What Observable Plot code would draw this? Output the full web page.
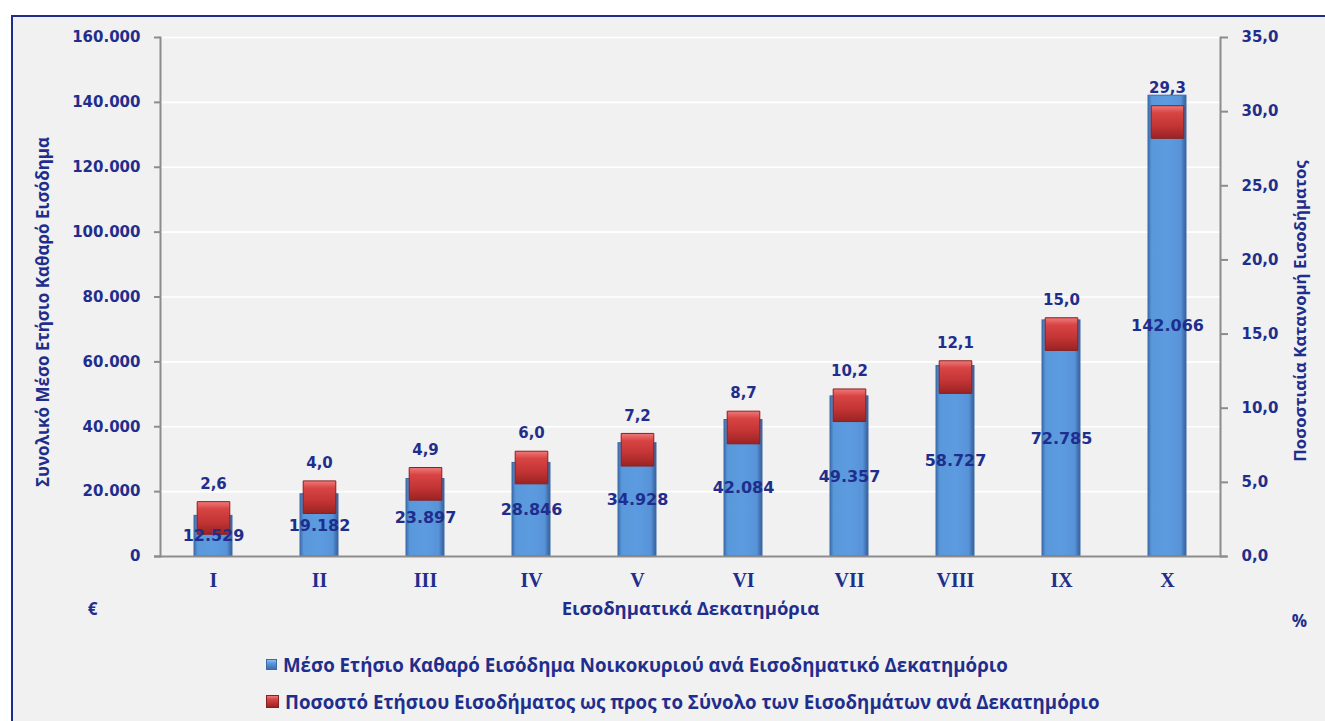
<!DOCTYPE html>
<html>
<head>
<meta charset="utf-8">
<script src="https://cdn.jsdelivr.net/npm/d3@7"></script>
<script src="https://cdn.jsdelivr.net/npm/@observablehq/plot@0.6"></script>
<style>
  html, body { margin: 0; padding: 0; background: #ffffff; width: 1325px; height: 721px; overflow: hidden; }
  #panel { position: absolute; left: 11px; top: 15px; width: 1400px; height: 800px;
           border: 2px solid #1f2e8c; background: #f1f1f1; box-sizing: border-box; }
  #chart { position: absolute; left: 0; top: 0; }
  #legend { position: absolute; left: 266px; top: 646px; font-family: "Open Sans", sans-serif;
            font-weight: 700; font-size: 18.7px; color: #1f2e8c; }
  .row { display: flex; align-items: center; height: 37px; white-space: nowrap; }
  .sw { width: 12px; height: 12px; margin-right: 6px; box-sizing: border-box; }
</style>
</head>
<body>
<div id="panel"></div>
<div id="chart"></div>
<div id="legend"></div>
<script>
// ---- data ----
const categories = ["I", "II", "III", "IV", "V", "VI", "VII", "VIII", "IX", "X"];
const income = [12529, 19182, 23897, 28846, 34928, 42084, 49357, 58727, 72785, 142066];
const share = [2.6, 4.0, 4.9, 6.0, 7.2, 8.7, 10.2, 12.1, 15.0, 29.3];
const leftTicks = [0, 20000, 40000, 60000, 80000, 100000, 120000, 140000, 160000];
const rightTicks = [0, 5, 10, 15, 20, 25, 30, 35];
const seriesNames = [
  "Μέσο Ετήσιο Καθαρό Εισόδημα Νοικοκυριού ανά Εισοδηματικό Δεκατημόριο",
  "Ποσοστό Ετήσιου Εισοδήματος ως προς το Σύνολο των Εισοδημάτων ανά Δεκατημόριο"
];
const leftTitle = "Συνολικό Μέσο Ετήσιο Καθαρό Εισόδημα";
const rightTitle = "Ποσοστιαία Κατανομή Εισοδήματος";
const xTitle = "Εισοδηματικά Δεκατημόρια";
const leftUnit = "€";
const rightUnit = "%";

// ---- helpers ----
const navy = "#1f2e8c";
const axisGray = "#8c8c8c";
const yMax = 160000, pMax = 35;
const k = yMax / pMax; // maps percentage scale onto income scale
const gr = d3.formatLocale({decimal: ",", thousands: ".", grouping: [3], currency: ["", "€"]});
const fmtInt = gr.format(",d");
const fmtPct = gr.format(".1f");

const data = categories.map((c, i) => ({cat: c, income: income[i], share: share[i]}));

function gradients() {
  const defs = d3.create("svg:defs");
  const b = defs.append("linearGradient").attr("id", "barGrad")
    .attr("x1", 0).attr("x2", 1).attr("y1", 0).attr("y2", 0);
  [[0, "#3c6fb2"], [0.1, "#5a98dc"], [0.5, "#5d9be0"], [0.86, "#5893d8"], [1, "#355f9c"]]
    .forEach(([o, c]) => b.append("stop").attr("offset", o).attr("stop-color", c));
  const r = defs.append("linearGradient").attr("id", "redGrad")
    .attr("x1", 0).attr("x2", 0).attr("y1", 0).attr("y2", 1);
  [[0, "#ef7a7a"], [0.22, "#d84444"], [0.6, "#c43535"], [1, "#9b2323"]]
    .forEach(([o, c]) => r.append("stop").attr("offset", o).attr("stop-color", c));
  return defs.node();
}

const titleStyle = {fill: navy, fontWeight: "bold", fontFamily: "Open Sans", textAnchor: "middle", lineAnchor: "middle"};

const plot = Plot.plot({
  width: 1325,
  height: 640,
  marginLeft: 160,
  marginRight: 105,
  marginTop: 37,
  marginBottom: 84,
  style: {background: "transparent", fontFamily: "DejaVu Sans", color: navy, overflow: "visible"},
  x: {domain: categories, paddingInner: 0.64, paddingOuter: 0.32, label: null},
  y: {domain: [0, yMax], label: null},
  marks: [
    gradients,
    Plot.gridY(leftTicks, {stroke: "#ffffff", strokeOpacity: 1, strokeWidth: 1.6}),
    Plot.barY(data, {x: "cat", y: "income", fill: "url(#barGrad)", stroke: "#3d6aa8", strokeWidth: 1}),
    Plot.dot(data, {x: "cat", y: d => d.share * k, symbol: "square", r: 18.4, fill: "url(#redGrad)",
                    stroke: "#8a1f1f", strokeWidth: 1}),
    Plot.text(data, {x: "cat", y: d => d.income / 2, text: d => fmtInt(d.income),
                     fontSize: 16, fontWeight: "bold", fill: navy, fontFamily: "DejaVu Sans"}),
    Plot.text(data, {x: "cat", y: d => d.share * k, dy: -34, text: d => fmtPct(d.share),
                     fontSize: 15, fontWeight: "bold", fill: navy, fontFamily: "DejaVu Sans"}),
    Plot.frame({anchor: "left", stroke: axisGray, strokeWidth: 2}),
    Plot.frame({anchor: "right", stroke: axisGray, strokeWidth: 2}),
    Plot.ruleY([0], {stroke: axisGray, strokeWidth: 2, insetLeft: -6, insetRight: -7}),
    Plot.axisY(leftTicks, {anchor: "left", tickSize: 6, tickPadding: 14, tickFormat: fmtInt,
                           stroke: axisGray, strokeWidth: 2, fill: navy, fontSize: 15,
                           fontWeight: "bold", fontFamily: "DejaVu Sans", label: null}),
    Plot.axisY(rightTicks.map(v => v * k), {anchor: "right", tickSize: 7, tickPadding: 14,
                           tickFormat: d => fmtPct(d / k), stroke: axisGray, strokeWidth: 2,
                           fill: navy, fontSize: 15, fontWeight: "bold", fontFamily: "DejaVu Sans", label: null}),
    Plot.axisX({anchor: "bottom", tickSize: 0, tickPadding: 16, fill: navy, fontSize: 20,
                fontWeight: "bold", fontFamily: "Liberation Serif", label: null}),
    Plot.text([leftTitle], {frameAnchor: "left", dx: -117, dy: 15, rotate: -90, fontSize: 17, ...titleStyle}),
    Plot.text([rightTitle], {frameAnchor: "right", dx: 80, dy: 14, rotate: -90, fontSize: 16.8, ...titleStyle}),
    Plot.text([xTitle], {frameAnchor: "bottom", dy: 53, fontSize: 18.5, ...titleStyle}),
    Plot.text([leftUnit], {frameAnchor: "bottom-left", dx: -68, dy: 53, fontSize: 17, ...titleStyle}),
    Plot.text([rightUnit], {frameAnchor: "bottom-right", dx: 79, dy: 65, fontSize: 17, ...titleStyle})
  ]
});
document.getElementById("chart").appendChild(plot);

// legend
const legend = d3.select("#legend");
const swatches = [
  "linear-gradient(180deg, #8ec0f0 0%, #5a98dc 35%, #3d6fb2 100%)",
  "linear-gradient(180deg, #ef7a7a 0%, #d84444 30%, #9b2323 100%)"
];
seriesNames.forEach((name, i) => {
  const row = legend.append("div").attr("class", "row");
  row.append("div").attr("class", "sw").style("background", swatches[i])
     .style("border", i === 0 ? "1px solid #3d6aa8" : "1px solid #8a1f1f")
     .style("width", i === 0 ? "11px" : "13px").style("height", i === 0 ? "11px" : "13px");
  row.append("span").text(name);
});
</script>
</body>
</html>
